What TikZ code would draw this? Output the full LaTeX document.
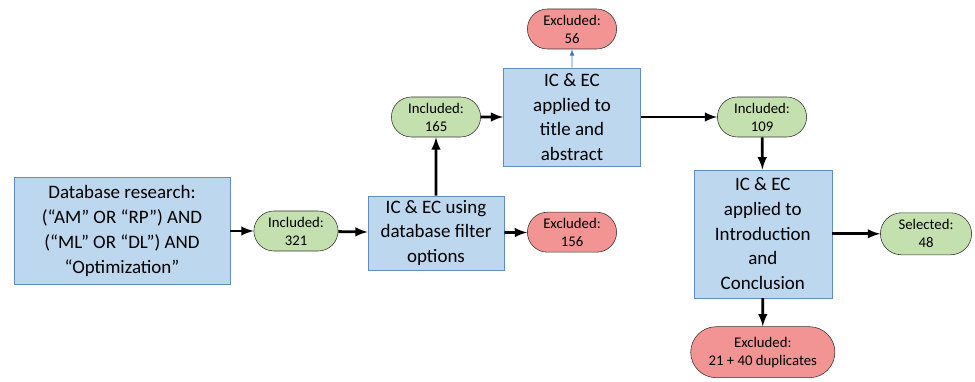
\documentclass[tikz,border=0pt]{standalone}
\usepackage{fontspec}
\setmainfont{Carlito}
\usepackage{xcolor}
\usetikzlibrary{positioning}
\usetikzlibrary{shapes,arrows}

\definecolor{boxblue}{RGB}{189,215,238}
\definecolor{boxedge}{RGB}{96,140,190}
\definecolor{incgreen}{RGB}{197,224,175}
\definecolor{excred}{RGB}{242,148,148}
\definecolor{thinblue}{RGB}{68,114,196}

\begin{document}
\begin{tikzpicture}
% tikz settings
\tikzstyle{block} = [rectangle, draw=boxedge, fill=boxblue, align=center,
    font=\fontsize{13.5}{17.6}\selectfont, inner sep=2pt]
\tikzstyle{included} = [rounded rectangle, draw=black!80, fill=incgreen, align=center,
    font=\fontsize{10.5}{12.8}\selectfont, minimum width=2.3cm, minimum height=1cm, inner sep=1pt]
\tikzstyle{excluded} = [included, fill=excred]
\tikzstyle{line} = [draw, -latex, line width=2pt]

\useasboundingbox (0,0) rectangle (24.375,9.525);

% the tikz picture
\node [block, minimum width=5.4cm, minimum height=2.675cm] (database) at (3.05,3.75)
    {Database research:\\(“AM” OR “RP”) AND\\(“ML” OR “DL”) AND\\“Optimization”};
\node [included, minimum width=2.175cm] (inc321) at (7.4,3.75) {Included:\\321};
\node [block, minimum width=3.4cm, minimum height=1.85cm] (filter) at (10.9,3.7)
    {IC \& EC using\\database filter\\options};
\node [excluded] (exc156) at (14.3,3.72) {Excluded:\\156};
\node [included] (inc165) at (10.9,6.6) {Included:\\165};
\node [block, minimum width=3.425cm, minimum height=2.45cm] (title) at (14.3,6.6)
    {IC \& EC\\applied to\\title and\\abstract};
\node [excluded] (exc56) at (14.3,8.8) {Excluded:\\56};
\node [included] (inc109) at (19.05,6.6) {Included:\\109};
\node [block, minimum width=3.45cm, minimum height=3.2cm] (intro) at (19.07,3.68)
    {IC \& EC\\applied to\\Introduction\\and\\Conclusion};
\node [included, minimum width=2.35cm, minimum height=1.05cm] (sel48) at (23.15,3.68) {Selected:\\48};
\node [excluded, minimum width=3.675cm, minimum height=1.275cm] (exc21) at (19.07,0.72)
    {Excluded:\\21 + 40 duplicates};

% connectors
\path [line] (database) -- (inc321);
\path [line] (inc321) -- (filter);
\path [line] (filter) -- (exc156);
\path [line] (filter) -- (inc165);
\path [line] (inc165) -- (title);
\draw [-latex, thinblue, line width=0.6pt] (title) -- (exc56);
\path [line] (title) -- (inc109);
\path [line] (inc109) -- (intro);
\path [line] (intro) -- (sel48);
\path [line] (intro) -- (exc21);
\end{tikzpicture}
\end{document}
